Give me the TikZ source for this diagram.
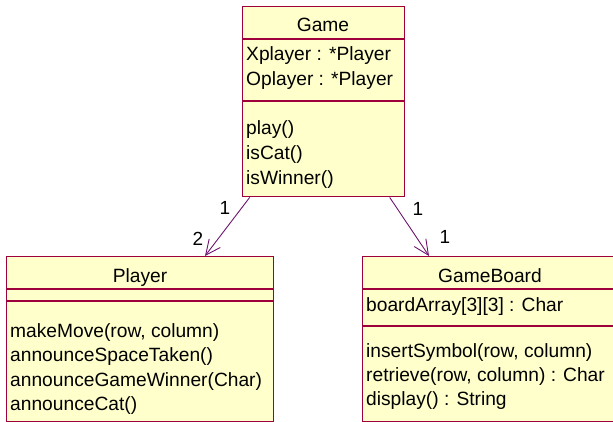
\documentclass[tikz,border=0pt]{standalone}
\usepackage{fontspec}
\setmainfont{Liberation Sans}
\usetikzlibrary{arrows.meta}
\definecolor{crim}{RGB}{158,0,60}
\definecolor{cream}{RGB}{255,255,204}
\definecolor{assoc}{RGB}{110,20,110}
\begin{document}
\begin{tikzpicture}[x=1pt,y=-1pt,
  c/.style={rectangle,draw=crim,fill=cream,line width=1.4pt,inner sep=0pt,anchor=north west},
  dv/.style={draw=crim,line width=1.2pt},
  t/.style={anchor=base west,inner sep=0pt,font=\fontsize{19.2}{24}\selectfont},
  h/.style={t,anchor=base},
  m/.style={inner sep=0pt,font=\fontsize{19}{20}\selectfont},
  a/.style={draw=assoc,line width=0.9pt,-{Straight Barb[length=15pt,width=14pt]}}]
  \useasboundingbox (0,0) rectangle (613,422);
  \clip (0,0) rectangle (613,422);

  % classes
  \node[c,minimum width=162pt,minimum height=190pt] (g) at (242,6) {};
  \node[c,minimum width=267pt,minimum height=165pt] (p) at (6,256) {};
  \node[c,minimum width=256pt,minimum height=165pt] (gb) at (362,256) {};

  \draw[dv] ([yshift=-33pt]g.north west) -- ([yshift=-33pt]g.north east);
  \draw[dv] ([yshift=-95pt]g.north west) -- ([yshift=-95pt]g.north east);
  \draw[dv] ([yshift=-33pt]p.north west) -- ([yshift=-33pt]p.north east);
  \draw[dv] ([yshift=-45pt]p.north west) -- ([yshift=-45pt]p.north east);
  \draw[dv] ([yshift=-33pt]gb.north west) -- ([yshift=-33pt]gb.north east);
  \draw[dv] ([yshift=-70pt]gb.north west) -- ([yshift=-70pt]gb.north east);

  % Game
  \node[h] (gn) at (323,32) {Game};
  \node[t] (gx) at (246,61) {Xplayer : *Player};
  \node[t] (go) at (246,86) {Oplayer : *Player};
  \node[t] (gp) at (246,135) {play()};
  \node[t] (gc) at (246,160) {isCat()};
  \node[t] (gw) at (246,185) {isWinner()};

  % Player
  \node[h] (pn) at (140,282) {Player};
  \node[t] (pm) at (10,337) {makeMove(row, column)};
  \node[t] (ps) at (10,361.5) {announceSpaceTaken()};
  \node[t] (pw) at (10,386) {announceGameWinner(Char)};
  \node[t] (pc) at (10,410.5) {announceCat()};

  % GameBoard
  \node[h] (bn) at (490,282) {GameBoard};
  \node[t] (ba) at (366,311) {boardArray[3][3] : Char};
  \node[t] (bi) at (366,357) {insertSymbol(row, column)};
  \node[t] (br) at (366,381) {retrieve(row, column) : Char};
  \node[t] (bd) at (366,405) {display() : String};

  % associations
  \draw[a] ([xshift=-74pt]g.south) -- ([xshift=199pt]p.north west);
  \draw[a] ([xshift=66pt]g.south) -- ([xshift=67pt]gb.north west);
  \node[m] (m1) at (225,208) {1};
  \node[m] (m2) at (198,239) {2};
  \node[m] (m3) at (418,209) {1};
  \node[m] (m4) at (445,237) {1};
\end{tikzpicture}
\end{document}
